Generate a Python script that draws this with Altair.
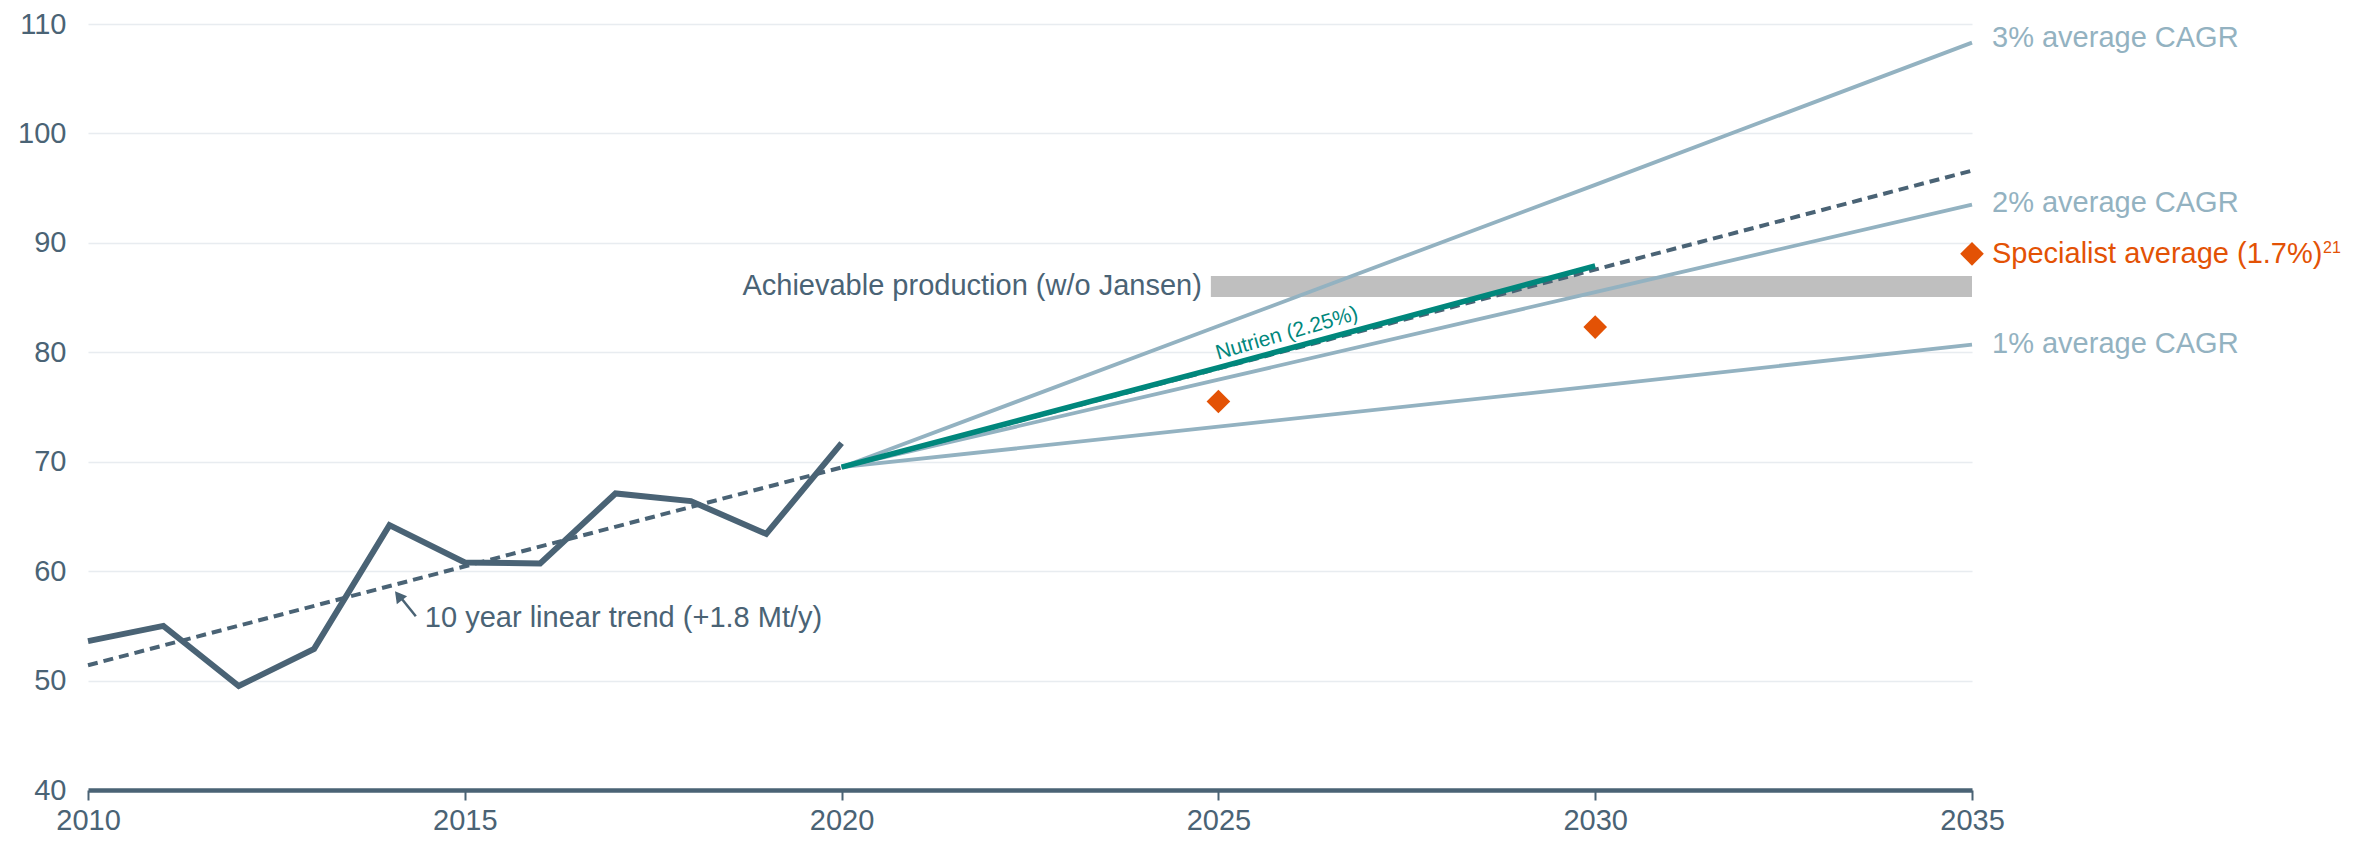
import altair as alt
import pandas as pd

# ---------------- data ----------------
hist_years = [2010, 2011, 2012, 2013, 2014, 2015, 2016, 2017, 2018, 2019, 2020]
hist_values = [53.6, 55.0, 49.5, 52.9, 64.2, 60.8, 60.7, 67.1, 66.4, 63.4, 71.7]

trend_years = [2010, 2035]
trend_values = [51.4, 96.6]

cagr_years = [2020, 2025, 2030, 2035]
cagr3_values = [69.5, 82.4, 95.3, 108.3]
cagr2_values = [69.5, 77.5, 85.5, 93.5]
cagr1_values = [69.5, 73.2, 76.9, 80.7]

nutrien_years = [2020, 2025, 2030]
nutrien_values = [69.5, 78.6, 87.9]

specialist_years = [2025, 2030, 2035]
specialist_values = [75.5, 82.3, 89.0]

band_x = [2024.9, 2035]
band_y = [85.06, 86.96]

cagr_label_texts = ["3% average CAGR", "2% average CAGR", "1% average CAGR"]
cagr_label_values = [108.7, 93.6, 80.8]

x_ticks = [2010, 2015, 2020, 2025, 2030, 2035]
y_ticks = [40, 50, 60, 70, 80, 90, 100, 110]

# ---------------- style ----------------
DARK = "#4a6375"
LIGHT = "#93b2c1"
TEAL = "#00877c"
ORANGE = "#e35205"
GREY = "#bfbfbf"
FS = 29
FONT = "Liberation Sans"

xs = alt.Scale(domain=[2010, 2035], nice=False, zero=False)
ys = alt.Scale(domain=[40, 110], nice=False, zero=False)

x_axis = alt.Axis(values=x_ticks, format="d", grid=False, labelFlush=False,
                  domainColor=DARK, domainWidth=4.5, tickColor=DARK,
                  tickWidth=2, tickSize=10, labelPadding=6,
                  labelFontSize=FS, labelColor=DARK, labelFont=FONT)
y_axis = alt.Axis(values=y_ticks, grid=True, gridColor="#e8ecf0", gridWidth=1.5,
                  domain=False, ticks=False, labelPadding=22, labelFlush=False,
                  labelFontSize=FS, labelColor=DARK, labelFont=FONT)


def X(f):
    return alt.X(f, type="quantitative", scale=xs, axis=x_axis, title=None)


def Y(f):
    return alt.Y(f, type="quantitative", scale=ys, axis=y_axis, title=None)


hist_df = pd.DataFrame({"year": hist_years, "value": hist_values})
trend_df = pd.DataFrame({"year": trend_years, "value": trend_values})
cagr_df = pd.concat([
    pd.DataFrame({"year": cagr_years, "value": cagr3_values, "s": "3%"}),
    pd.DataFrame({"year": cagr_years, "value": cagr2_values, "s": "2%"}),
    pd.DataFrame({"year": cagr_years, "value": cagr1_values, "s": "1%"}),
])
nut_df = pd.DataFrame({"year": nutrien_years, "value": nutrien_values})
spec_df = pd.DataFrame({"year": specialist_years, "value": specialist_values})
band_df = pd.DataFrame({"x": [band_x[0]], "x2": [band_x[1]], "y": [band_y[0]], "y2": [band_y[1]]})
lab_df = pd.DataFrame({"year": [2035] * 3, "value": cagr_label_values, "text": cagr_label_texts})

band = alt.Chart(band_df).mark_rect(color=GREY).encode(
    x=X("x"), x2="x2", y=Y("y"), y2="y2")

cagr = alt.Chart(cagr_df).mark_line(color=LIGHT, strokeWidth=3.8).encode(
    x=X("year"), y=Y("value"), detail="s:N")

trend = alt.Chart(trend_df).mark_line(color=DARK, strokeWidth=4, strokeDash=[10, 6]).encode(
    x=X("year"), y=Y("value"))

nutrien = alt.Chart(nut_df).mark_line(color=TEAL, strokeWidth=5.5).encode(
    x=X("year"), y=Y("value"))

hist = alt.Chart(hist_df).mark_line(color=DARK, strokeWidth=6, strokeJoin="miter").encode(
    x=X("year"), y=Y("value"))

spec = alt.Chart(spec_df).mark_point(shape="diamond", filled=True, color=ORANGE,
                                     size=560, opacity=1).encode(
    x=X("year"), y=Y("value"))

cagr_labels = alt.Chart(lab_df).mark_text(align="left", baseline="middle", dx=20,
                                          fontSize=FS, color=LIGHT, font=FONT).encode(
    x=X("year"), y=Y("value"), text="text:N")

spec_label = alt.Chart(pd.DataFrame({"year": [2035], "value": [89.0]})).mark_text(
    align="left", baseline="middle", dx=20, fontSize=FS, color=ORANGE, font=FONT,
    text="Specialist average (1.7%)").encode(x=X("year"), y=Y("value"))

spec_sup = alt.Chart(pd.DataFrame({"year": [2035], "value": [89.0]})).mark_text(
    align="left", baseline="middle", dx=351, dy=-6, fontSize=16, color=ORANGE,
    font=FONT, text="21").encode(x=X("year"), y=Y("value"))

band_label = alt.Chart(pd.DataFrame({"year": [2024.9], "value": [86.06]})).mark_text(
    align="right", baseline="middle", dx=-9, fontSize=FS, color=DARK, font=FONT,
    text="Achievable production (w/o Jansen)").encode(x=X("year"), y=Y("value"))

nut_label = alt.Chart(pd.DataFrame({"year": [2025.91], "value": [81.7]})).mark_text(
    align="center", baseline="middle", angle=344, fontSize=21, color=TEAL,
    font=FONT, text="Nutrien (2.25%)").encode(x=X("year"), y=Y("value"))

trend_label = alt.Chart(pd.DataFrame({"year": [2014.47], "value": [55.68]})).mark_text(
    align="left", baseline="middle", fontSize=FS, color=DARK, font=FONT,
    text="10 year linear trend (+1.8 Mt/y)").encode(x=X("year"), y=Y("value"))

arrow_df = pd.DataFrame({"x": [2014.35], "x2": [2014.12], "y": [55.87], "y2": [57.85]})
arrow_line = alt.Chart(arrow_df).mark_rule(color=DARK, strokeWidth=2.5).encode(
    x=X("x"), x2="x2", y=Y("y"), y2="y2")
arrow_head = alt.Chart(pd.DataFrame({"year": [2014.12], "value": [57.75]})).mark_point(
    shape="triangle-up", filled=True, color=DARK, size=170, angle=322, opacity=1).encode(
    x=X("year"), y=Y("value"))

chart = alt.layer(
    band, cagr, trend, nutrien, hist, spec,
    cagr_labels, spec_label, spec_sup, band_label, nut_label, trend_label,
    arrow_line, arrow_head,
).properties(
    width=1884, height=766,
    autosize=alt.AutoSizeParams(type="none"),
    padding={"left": 80, "top": 16, "right": 395, "bottom": 45},
    background="white",
).configure(font=FONT).configure_view(stroke=None)

chart.save("out.html", embed_options={"renderer": "svg", "actions": False})
